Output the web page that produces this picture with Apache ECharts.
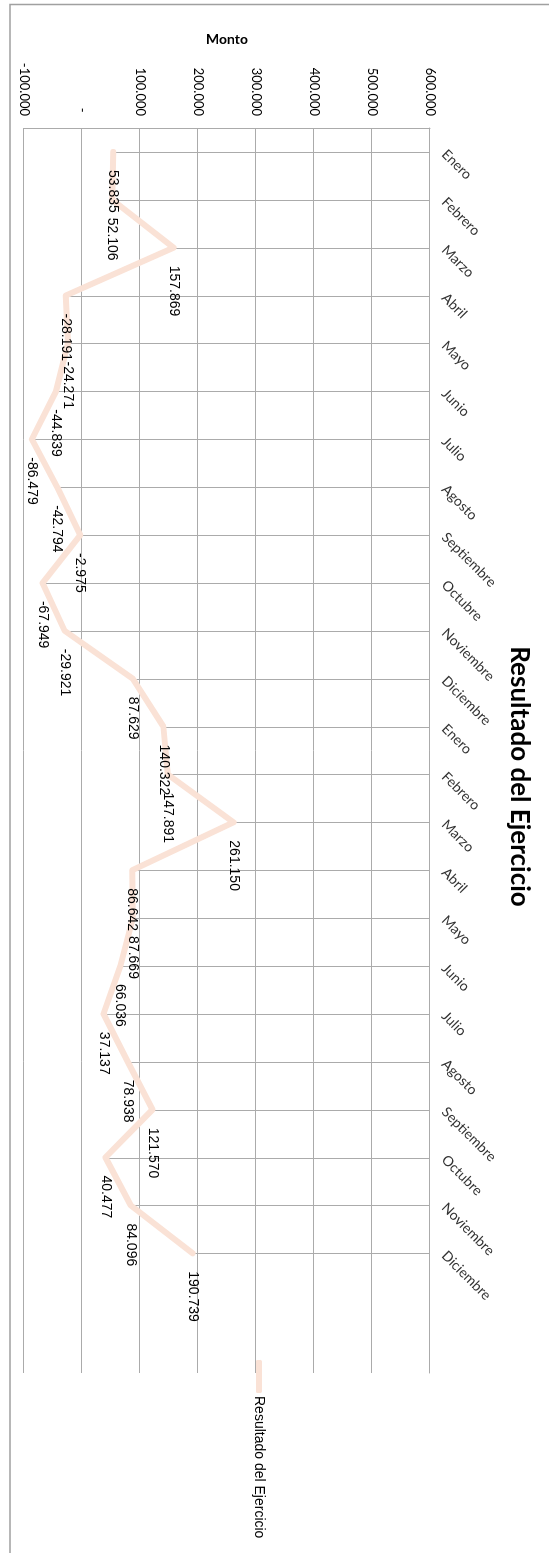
<!DOCTYPE html>
<html>
<head>
<meta charset="utf-8">
<script src="https://cdn.jsdelivr.net/npm/echarts@6/dist/echarts.min.js"></script>
<style>
  html, body { margin: 0; padding: 0; background: #fff; }
  #page { position: relative; width: 549px; height: 1553px; overflow: hidden; }
  /* the chart is laid out landscape and turned a quarter turn clockwise */
  #chart {
    position: absolute; left: 0; top: 0;
    width: 1553px; height: 549px;
    transform-origin: 0 0;
    transform: translateX(549px) rotate(90deg);
  }
</style>
</head>
<body>
<div id="page"><div id="chart"></div></div>
<script>
// Months over two years; the last two slots of the axis are left empty
const months = ['Enero', 'Febrero', 'Marzo', 'Abril', 'Mayo', 'Junio', 'Julio', 'Agosto',
  'Septiembre', 'Octubre', 'Noviembre', 'Diciembre',
  'Enero', 'Febrero', 'Marzo', 'Abril', 'Mayo', 'Junio', 'Julio', 'Agosto',
  'Septiembre', 'Octubre', 'Noviembre', 'Diciembre', '', ''];

// Resultado del Ejercicio, monthly amounts
const resultado = [53835, 52106, 157869, -28191, -24271, -44839, -86479, -42794,
  -2975, -67949, -29921, 87629,
  140322, 147891, 261150, 86642, 87669, 66036, 37137, 78938,
  121570, 40477, 84096, 190739, null, null];

const seriesName = 'Resultado del Ejercicio';
const chartTitle = 'Resultado del Ejercicio';
const valueAxisName = 'Monto';
const valueMin = -100000;
const valueMax = 600000;
const valueStep = 100000;

function fmtNum(v) {
  if (v === 0) return '- ';
  const s = Math.abs(v).toString().replace(/\B(?=(\d{3})+(?!\d))/g, '.');
  return (v < 0 ? '-' : '') + s;
}

// points for the drop lines that run from each value up to the category axis
const dropPoints = [];
resultado.forEach(function (v, i) {
  if (v !== null) dropPoints.push([i, v]);
});

const grid = '#ababab';
const lineColor = '#fae2d6';
const chart = echarts.init(document.getElementById('chart'), null, { width: 1553, height: 549, renderer: 'canvas' });
chart.setOption({
  animation: false,
  backgroundColor: '#ffffff',
  title: {
    text: chartTitle,
    left: 'center',
    top: 12,
    textStyle: { fontFamily: 'Lato', fontWeight: 'bold', fontSize: 26, color: '#000' }
  },
  legend: {
    orient: 'vertical',
    left: 1355,
    top: 278,
    icon: 'roundRect',
    itemWidth: 33,
    itemHeight: 6,
    itemGap: 4,
    textStyle: { fontFamily: 'Liberation Sans', fontSize: 14, color: '#000', padding: [0, 0, 0, -2] },
    data: [{ name: seriesName, itemStyle: { color: lineColor, borderWidth: 0 } }]
  },
  graphic: [{
    type: 'rect',
    shape: { x: 4.5, y: -20, width: 1600, height: 559 },
    style: { fill: 'none', stroke: '#a0a0a0', lineWidth: 1.5 },
    silent: true
  }],
  grid: { left: 128, right: 180, top: 119, bottom: 24, containLabel: false },
  xAxis: {
    type: 'category',
    position: 'top',
    boundaryGap: true,
    data: months,
    axisLine: { onZero: false, lineStyle: { color: grid, width: 1 } },
    axisTick: { show: false },
    splitLine: { show: false },
    axisLabel: { rotate: -45, interval: 0, margin: 14, fontFamily: 'Lato', fontSize: 14, color: '#333' }
  },
  yAxis: {
    type: 'value',
    min: valueMin,
    max: valueMax,
    interval: valueStep,
    name: valueAxisName,
    nameLocation: 'middle',
    nameGap: 82,
    nameTextStyle: { fontFamily: 'Lato', fontWeight: 'bold', fontSize: 14, color: '#000' },
    axisLine: { show: true, lineStyle: { color: grid, width: 1 } },
    axisTick: { show: false },
    splitLine: { show: true, lineStyle: { color: grid, width: 1 } },
    axisLabel: { formatter: fmtNum, margin: 12, fontFamily: 'Lato', fontSize: 13, color: '#000' }
  },
  series: [{
    // drop lines
    type: 'custom',
    silent: true,
    z: 1,
    data: dropPoints,
    encode: { x: 0, y: 1 },
    renderItem: function (params, api) {
      const p0 = api.coord([api.value(0), api.value(1)]);
      const p1 = api.coord([api.value(0), valueMax]);
      return {
        type: 'line',
        shape: { x1: Math.round(p0[0]) + 0.5, y1: p0[1], x2: Math.round(p1[0]) + 0.5, y2: p1[1] },
        style: { stroke: grid, lineWidth: 1 }
      };
    }
  }, {
    name: seriesName,
    type: 'line',
    z: 3,
    data: resultado,
    symbol: 'circle',
    symbolSize: 2,
    showSymbol: true,
    connectNulls: false,
    color: lineColor,
    itemStyle: { color: 'rgba(0,0,0,0)', borderWidth: 0 },
    lineStyle: { color: lineColor, width: 6, cap: 'round', join: 'round' },
    label: {
      show: true,
      position: 'right',
      distance: 17,
      formatter: function (p) { return fmtNum(p.value); },
      fontFamily: 'Liberation Sans',
      fontSize: 14,
      color: '#000'
    }
  }]
});
</script>
</body>
</html>
